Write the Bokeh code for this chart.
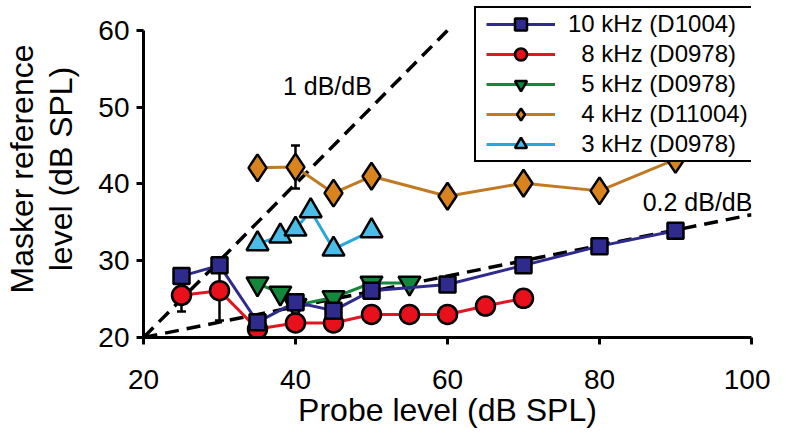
from bokeh.plotting import figure
from bokeh.models import (Range1d, Legend, LegendItem, Whisker, ColumnDataSource,
                          Label, FixedTicker, TeeHead)
from bokeh.embed import file_html
from bokeh.resources import INLINE

# ---------------- data ----------------
x_10k = [25, 30, 35, 40, 45, 50, 60, 70, 80, 90]
y_10k = [28.0, 29.4, 22.0, 24.6, 23.5, 26.1, 26.9, 29.4, 31.9, 33.9]

x_8k = [25, 30, 35, 40, 45, 50, 55, 60, 65, 70]
y_8k = [25.5, 26.1, 21.1, 21.9, 21.9, 23.0, 23.0, 23.0, 24.1, 25.1]

x_5k = [35, 38, 40, 45, 50, 55]
y_5k = [27.0, 25.8, 24.2, 25.2, 27.1, 27.1]

x_4k = [35, 40, 45, 50, 60, 70, 80, 90]
y_4k = [42.1, 42.2, 38.8, 41.0, 38.4, 40.1, 39.1, 43.2]

x_3k = [35, 38, 40, 42, 45, 50]
y_3k = [32.2, 33.2, 34.1, 36.5, 31.5, 33.9]

# error bars (x, y, half-width)
err_x = [25, 30, 40]
err_y = [25.5, 26.1, 42.2]
err_h = [2.1, 3.9, 2.8]

# reference slopes
ref1_x = [20, 60]
ref1_y = [20, 60]
ref02_x = [20, 100]
ref02_y = [20, 36]

x_ticks = [20, 40, 60, 80, 100]
y_ticks = [20, 30, 40, 50, 60]

labels = ["10 kHz (D1004)", "\u00a0\u00a08 kHz (D0978)", "\u00a0\u00a05 kHz (D0978)",
          "\u00a0\u00a04 kHz (D11004)", "\u00a0\u00a03 kHz (D0978)"]

# ---------------- styling ----------------
FONT = "Liberation Sans"
C10 = "#2E2B8C"
C8L, C8F = "#E3151E", "#E8101A"
C5L, C5F = "#14883A", "#14883A"
C4L, C4F = "#C27A22", "#D9831F"
C3L, C3F = "#29A6DD", "#49BDE8"

p = figure(width=770, height=430, output_backend="svg", toolbar_location=None,
           x_range=Range1d(20, 100), y_range=Range1d(20, 63.9),
           min_border_left=135, min_border_right=19, min_border_top=0,
           min_border_bottom=93)
p.outline_line_color = None
p.grid.visible = False
p.background_fill_color = "white"

for ax in (p.xaxis, p.yaxis):
    ax.axis_line_width = 3
    ax.major_tick_line_width = 3
    ax.major_tick_out = 7
    ax.major_tick_in = 0
    ax.minor_tick_line_color = None
    ax.major_label_text_font = FONT
    ax.major_label_text_font_size = "28px"
    ax.major_label_text_color = "black"
    ax.axis_label_text_font = FONT
    ax.axis_label_text_font_size = "32px"
    ax.axis_label_text_font_style = "normal"
    ax.axis_label_text_color = "black"

p.yaxis.axis_label_text_line_height = 1.1

p.xaxis.ticker = FixedTicker(ticks=x_ticks)
p.yaxis.ticker = FixedTicker(ticks=y_ticks)
p.yaxis.bounds = (20, 60)
p.xaxis.major_label_standoff = 25
p.yaxis.major_label_standoff = 7
p.xaxis.axis_label = "Probe level (dB SPL)"
p.yaxis.axis_label = "Masker reference\nlevel (dB SPL)"
p.xaxis.axis_label_standoff = 0
p.yaxis.axis_label_standoff = 16

# reference dashed lines
p.line(ref1_x, ref1_y, line_color="black", line_width=3.5, line_dash="14 8")
p.line(ref02_x, ref02_y, line_color="black", line_width=3.5, line_dash="14 8")

# error bars
esrc = ColumnDataSource(dict(x=err_x,
                             upper=[y + h for y, h in zip(err_y, err_h)],
                             lower=[y - h for y, h in zip(err_y, err_h)]))
p.add_layout(Whisker(source=esrc, base="x", upper="upper", lower="lower",
                     line_color="black", line_width=2.5,
                     upper_head=TeeHead(size=9, line_width=2.5, line_color="black"),
                     lower_head=TeeHead(size=9, line_width=2.5, line_color="black")))

MS = dict(line_color="black", line_width=2.5)

l3 = p.line(x_3k, y_3k, line_color=C3L, line_width=3)
s3 = p.scatter(x_3k, y_3k, marker="triangle", size=22, fill_color=C3F, **MS)
l4 = p.line(x_4k, y_4k, line_color=C4L, line_width=3)
s4 = p.scatter(x_4k, y_4k, marker="diamond", size=27, fill_color=C4F, **MS)
l5 = p.line(x_5k, y_5k, line_color=C5L, line_width=3)
s5 = p.scatter(x_5k, y_5k, marker="inverted_triangle", size=22, fill_color=C5F, **MS)
l8 = p.line(x_8k, y_8k, line_color=C8L, line_width=3)
s8 = p.scatter(x_8k, y_8k, marker="circle", size=19, fill_color=C8F, **MS)
l10 = p.line(x_10k, y_10k, line_color=C10, line_width=3)
s10 = p.scatter(x_10k, y_10k, marker="square", size=16, fill_color=C10, **MS)

p.add_layout(Label(x=44.2, y=52.7, text="1 dB/dB", text_align="center",
                   text_baseline="middle", text_font=FONT, text_font_size="25px",
                   text_color="black"))
p.add_layout(Label(x=92.9, y=37.6, text="0.2 dB/dB", text_align="center",
                   text_baseline="middle", text_font=FONT, text_font_size="25px",
                   text_color="black"))

legend = Legend(items=[
    LegendItem(label=labels[0], renderers=[l10, s10]),
    LegendItem(label=labels[1], renderers=[l8, s8]),
    LegendItem(label=labels[2], renderers=[l5, s5]),
    LegendItem(label=labels[3], renderers=[l4, s4]),
    LegendItem(label=labels[4], renderers=[l3, s3]),
], location=(331, 175))
legend.label_text_font = FONT
legend.label_text_font_size = "24px"
legend.label_text_color = "black"
legend.glyph_width = 69
legend.glyph_height = 30
legend.label_height = 30
legend.spacing = 0
legend.padding = dict(left=10, right=5, top=1, bottom=1)
legend.margin = 0
legend.label_standoff = 13
legend.border_line_color = "black"
legend.border_line_alpha = 1
legend.border_line_width = 2
legend.background_fill_color = "white"
legend.background_fill_alpha = 1
p.add_layout(legend)

open("out.html", "w").write(file_html(p, INLINE))
